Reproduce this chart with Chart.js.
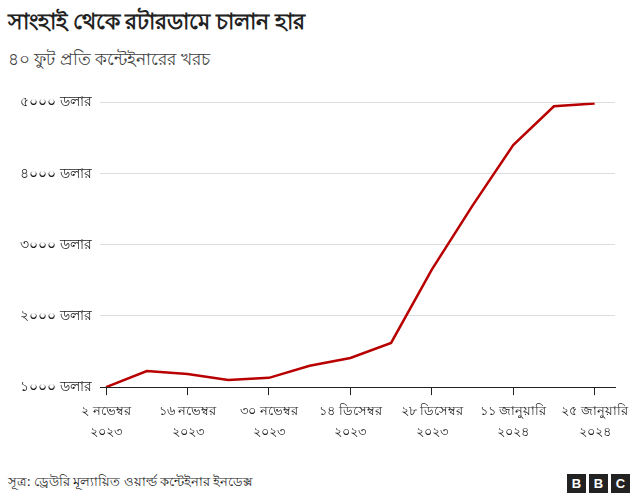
<!DOCTYPE html>
<html><head><meta charset="utf-8">
<script src="https://cdn.jsdelivr.net/npm/chart.js@4"></script>
<style>
body{margin:0;width:640px;height:499px;background:#fff;font-family:"Noto Sans",sans-serif;position:relative;overflow:hidden}
h1{position:absolute;left:8px;top:4px;margin:0;font-size:22px;font-weight:600;color:#222}
.sub{position:absolute;left:8px;top:46px;font-size:17px;color:#404040}
#wrap{position:absolute;left:0;top:86px;width:640px;height:362px}
.foot{position:absolute;left:8px;top:472px;font-size:13px;color:#222}
.bbc{position:absolute;right:10px;top:474px;display:flex;gap:3px}
.bbc span{width:19px;height:19px;background:#222;color:#fff;font:bold 13px Arial,sans-serif;display:flex;align-items:center;justify-content:center}
</style></head><body>
<h1>সাংহাই থেকে রটারডামে চালান হার</h1>
<div class="sub">৪০ ফুট প্রতি কন্টেইনারের খরচ</div>
<div id="wrap"><canvas id="c"></canvas></div>
<div class="foot">সূত্র: ড্রেউরি মূল্যায়িত ওয়ার্ল্ড কন্টেইনার ইনডেক্স</div>
<div class="bbc"><span>B</span><span>B</span><span>C</span></div>
<script>
const weeks = [0,1,2,3,4,5,6,7,8,9,10,11,12];
const rates = [1000,1225,1185,1100,1130,1300,1410,1620,2650,3550,4400,4945,4985];
const xTickLabels = [["২ নভেম্বর","২০২৩"],["১৬ নভেম্বর","২০২৩"],["৩০ নভেম্বর","২০২৩"],["১৪ ডিসেম্বর","২০২৩"],["২৮ ডিসেম্বর","২০২৩"],["১১ জানুয়ারি","২০২৪"],["২৫ জানুয়ারি","২০২৪"]];
const yTickLabels = {1000:"১০০০ ডলার",2000:"২০০০ ডলার",3000:"৩০০০ ডলার",4000:"৪০০০ ডলার",5000:"৫০০০ ডলার"};

new Chart(document.getElementById("c"), {
  type: "line",
  data: { datasets: [{ data: weeks.map((w, i) => ({ x: w, y: rates[i] })), borderColor: "#b80000", borderWidth: 2.5, pointRadius: 0, tension: 0 }] },
  options: {
    responsive: true, maintainAspectRatio: false, animation: false,
    layout: { padding: { left: 0, right: 25, top: 8 } },
    plugins: { legend: { display: false }, tooltip: { enabled: false } },
    scales: {
      x: {
        type: "linear", min: -0.15, max: 12.5,
        afterBuildTicks: (s) => { s.ticks = [0,2,4,6,8,10,12].map(v => ({ value: v })); },
        grid: { display: true, drawOnChartArea: false, drawTicks: true, tickLength: 8, color: "#222" },
        border: { color: "#222" },
        ticks: { color: "#222", font: { size: 13, family: "Noto Sans", lineHeight: 1.65 }, maxRotation: 0, padding: 5,
          callback: (v) => xTickLabels[v / 2] }
      },
      y: {
        min: 1000, max: 5000,
        afterFit: (s) => { s.width = 100; },
        grid: { color: "#ddd", drawTicks: false },
        border: { display: false },
        ticks: { stepSize: 1000, padding: 8, color: "#222", font: { size: 14, family: "Noto Sans" },
          callback: (v) => yTickLabels[v] }
      }
    }
  }
});
</script>
</body></html>
